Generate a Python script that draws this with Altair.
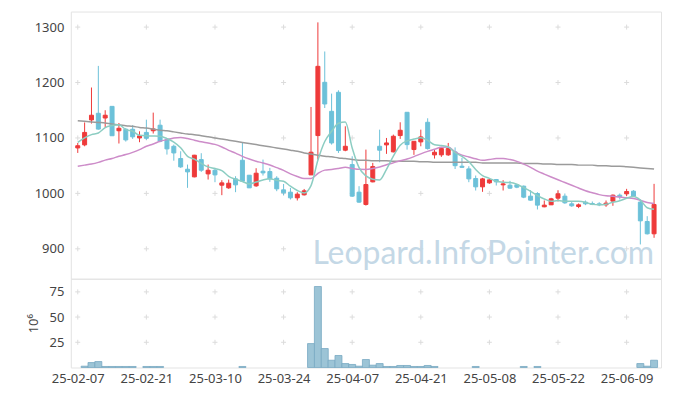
import json
import altair as alt
import pandas as pd

# ---------------- data ----------------
dates = [
    "25-02-07", "25-02-10", "25-02-11", "25-02-12", "25-02-13", "25-02-14",
    "25-02-17", "25-02-18", "25-02-19", "25-02-20", "25-02-21",
    "25-02-24", "25-02-25", "25-02-26", "25-02-27", "25-02-28",
    "25-03-04", "25-03-05", "25-03-06", "25-03-07",
    "25-03-10", "25-03-11", "25-03-12", "25-03-13", "25-03-14",
    "25-03-17", "25-03-18", "25-03-19", "25-03-20", "25-03-21",
    "25-03-24", "25-03-25", "25-03-26", "25-03-27", "25-03-28",
    "25-03-31", "25-04-01", "25-04-02", "25-04-03", "25-04-04",
    "25-04-07", "25-04-08", "25-04-09", "25-04-10", "25-04-11",
    "25-04-14", "25-04-15", "25-04-16", "25-04-17", "25-04-18",
    "25-04-21", "25-04-22", "25-04-23", "25-04-24", "25-04-25",
    "25-04-28", "25-04-29", "25-04-30", "25-05-02", "25-05-07",
    "25-05-08", "25-05-09", "25-05-12", "25-05-13", "25-05-14",
    "25-05-15", "25-05-16", "25-05-19", "25-05-20", "25-05-21",
    "25-05-22", "25-05-23", "25-05-26", "25-05-27", "25-05-28",
    "25-05-29", "25-05-30", "25-06-02", "25-06-04", "25-06-05",
    "25-06-09", "25-06-10", "25-06-11", "25-06-12", "25-06-13",
]

open_ = [1082, 1087.5, 1132.5, 1144.5, 1136, 1157, 1113, 1115.7, 1115.7, 1100,
         1110, 1113, 1123, 1097, 1085, 1062.9, 1043.6, 1029.8, 1061, 1035.2,
         1041.8, 1014.8, 1010, 1026.2, 1059.8, 1032.8, 1013.6, 1040, 1039.4, 1027.4,
         1006.4, 1002.2, 992, 997.4, 1033.4, 1104.3, 1200.4, 1148.1, 1182.4, 1077.9,
         1052, 1002.2, 980, 1020.8, 1085, 1087.5, 1074.9, 1104.3, 1146.3, 1079.1,
         1092.9, 1128.3, 1069.5, 1069.5, 1069.5, 1074.9, 1049, 1044.2, 1026.8, 1011.8,
         1019, 1025, 1015.4, 1014.8, 1015.4, 1013, 995, 999.8, 975.8, 979.4,
         991.4, 995, 981.2, 976.4, 984.2, 981.8, 981.2, 979.4, 986, 996.8,
         999.2, 1004, 984.2, 949.3, 927.1]
high = [1091, 1128, 1191, 1230, 1150, 1157, 1127, 1118, 1123, 1112,
        1133, 1145.7, 1133, 1100, 1088, 1076, 1052, 1069.5, 1072.5, 1052,
        1046, 1023.8, 1025, 1031, 1091, 1033, 1045.4, 1061, 1046, 1031,
        1017, 1010, 1002.2, 1008, 1155.9, 1308.5, 1256, 1180, 1186, 1121,
        1067, 1013, 1079, 1055, 1115, 1100, 1106, 1128.3, 1146.3, 1094,
        1115, 1135.5, 1079, 1083.9, 1091, 1083, 1064, 1049, 1032.2, 1028,
        1026.2, 1026, 1023.8, 1022.6, 1017, 1014.2, 1005.8, 1002.2, 987.2, 992,
        1005.8, 999.8, 985.4, 981.8, 987.2, 985.4, 984.2, 987.2, 998, 999.8,
        1008.2, 1005.8, 989, 958.9, 1017.2]
low = [1073, 1085, 1126, 1115, 1119, 1104, 1090, 1093.5, 1098.3, 1092.3,
       1096.5, 1108, 1092.3, 1070, 1059, 1046, 1010, 1029, 1038.8, 1025,
       1020.2, 996.8, 1008.2, 1002.2, 1020.8, 1010, 1011.8, 1032.2, 1020.8, 1004,
       996.8, 989, 987.2, 996.2, 1033, 1061, 1154, 1088, 1073, 1076,
       993.8, 983, 978, 1020, 1056.2, 1071.3, 1074, 1098.3, 1079, 1069.5,
       1085, 1079, 1062.8, 1065.9, 1067.7, 1044, 1046, 1020.2, 1005.2, 1002.8,
       1017.2, 1014.2, 1005.2, 1008.2, 1009.4, 991.4, 987, 971, 975, 979,
       985.4, 981.2, 975.8, 973.4, 978.8, 978.8, 977, 975.8, 977.6, 989,
       995, 993.8, 907.9, 925.9, 919.9]
close = [1086, 1110, 1141, 1116, 1141, 1104, 1117.5, 1096.5, 1102, 1103.7,
         1099.5, 1116.3, 1094, 1080.3, 1073, 1047.8, 1038.8, 1068.9, 1041.8, 1041.8,
         1033.4, 1019, 1018.4, 1015.4, 1022, 1010, 1036.4, 1037, 1026.2, 1008.2,
         1001, 992, 998.6, 1004.6, 1074.3, 1229.2, 1161.3, 1091, 1077.3, 1085,
         995, 984.2, 1016, 1048.4, 1077.9, 1091, 1103.1, 1113.9, 1088, 1094,
         1101.9, 1080.9, 1074.3, 1080.9, 1080.9, 1050, 1047, 1026.2, 1011.8, 1026.2,
         1024.4, 1020.8, 1017.2, 1009.4, 1011.2, 993.2, 987.8, 978.8, 978.8, 990.2,
         999.2, 983, 977.6, 979.4, 981.2, 980, 979.4, 982.4, 996.8, 994.4,
         1003.4, 995, 950.5, 927.1, 980]

# volume, millions of shares
volume = [0, 1.3, 4.9, 5.9, 1, 1, 1, 1, 1, 0,
          1, 1, 1, 0, 0, 0, 0, 0, 0, 0,
          0, 0, 0, 0, 1, 0, 0, 0, 0, 0,
          0, 0, 0, 0, 23.7, 80.3, 18.8, 7.2, 11.9, 3.9,
          3, 1.3, 7.9, 2.3, 3.9, 1, 1, 2, 2, 1,
          1, 2, 1, 0, 0, 0, 0, 0, 1, 0,
          0, 0, 0, 0, 0, 1, 0, 1, 0, 0,
          0, 0, 0, 0, 0, 0, 0, 0, 0, 0,
          0, 0, 3.9, 1.3, 7.2]

ma5 = [1092, 1100, 1106, 1109,
       1118.8, 1122.4, 1123.9, 1115, 1112.2, 1104.7, 1103.8, 1103.6, 1103.1, 1098.8,
       1092.6, 1082.3, 1066.8, 1061.8, 1054.1, 1047.8, 1044.9, 1041, 1030.9, 1025.6,
       1021.6, 1017, 1020.4, 1024.2, 1026.3, 1023.6, 1021.8, 1012.9, 1005.2, 1000.9,
       1014.1, 1059.7, 1093.6, 1112.1, 1126.6, 1128.8, 1081.9, 1046.5, 1031.5, 1025.7,
       1024.3, 1043.5, 1067.3, 1086.9, 1094.8, 1098, 1100.2, 1095.7, 1087.8, 1086.4,
       1083.8, 1073.4, 1066.6, 1057, 1043.2, 1032.2, 1027.1, 1021.9, 1020.1, 1019.6,
       1016.6, 1010.4, 1003.8, 996.1, 990, 985.8, 987, 986, 985.8, 985.9,
       984.1, 980.2, 979.5, 980.5, 984, 986.6, 991.3, 994.4, 988, 974.1, 971.2]

ma20 = [1049, 1051, 1053, 1056, 1060, 1063, 1067, 1070, 1074, 1079,
        1085, 1089, 1094, 1097, 1100, 1101, 1099, 1096, 1093,
        1091, 1088.4, 1083.8, 1077.7, 1072.7, 1066.7, 1062, 1058, 1055, 1051.2,
        1046.4, 1041.5, 1035.3, 1030.5, 1026.7, 1026.8, 1035.9, 1042, 1043.1, 1044.9,
        1047, 1045.1, 1043.4, 1043.2, 1044.9, 1047.7, 1051.7, 1055.1, 1058.9, 1062,
        1066.3, 1071.3, 1075.8, 1079.6, 1083.4, 1083.7, 1074.8, 1069, 1065.8, 1062.5,
        1059.6, 1061, 1062.9, 1062.9, 1061, 1057.7, 1052.8, 1047, 1040.2, 1034.8,
        1029.6, 1024.5, 1019.6, 1014.7, 1009.7, 1004.7, 1001.2, 997.8, 995.6, 994.9,
        993.3, 992.2, 990.9, 987.6, 983.5, 981.9]

ma60 = [1131, 1130, 1129, 1128, 1127, 1125, 1124, 1122, 1121, 1119,
        1118, 1116, 1114, 1113, 1111, 1109, 1107, 1106, 1104, 1102,
        1100, 1098, 1096, 1094, 1092, 1090, 1088, 1086, 1084, 1082,
        1080, 1078, 1076, 1073, 1071, 1069, 1067, 1066, 1064, 1063,
        1061, 1060, 1060, 1059, 1059, 1059, 1058, 1058, 1058, 1058,
        1057, 1057, 1056, 1056, 1056, 1056, 1056, 1056, 1056, 1055,
        1055, 1055, 1055, 1055, 1055, 1054, 1054, 1054, 1053, 1053,
        1052, 1052, 1052, 1051, 1051, 1051, 1050, 1050, 1049, 1049,
        1048, 1047, 1046, 1045, 1044]

tick_index = [0, 10, 20, 30, 40, 50, 60, 70, 80]
price_ticks = [900, 1000, 1100, 1200, 1300]
volume_ticks = [25, 50, 75]
watermark = "Leopard.InfoPointer.com"

# ---------------- styling ----------------
UP = "#ee3a3a"
DOWN = "#6cc1d9"
FONT = "Noto Sans"
W = 592

n = len(dates)
df = pd.DataFrame({
    "i": list(range(n)), "date": dates, "open": open_, "high": high,
    "low": low, "close": close, "volume": volume,
    "ma5": ma5, "ma20": ma20, "ma60": ma60,
})

label_expr = json.dumps(dates) + "[datum.value]"
x_scale = alt.Scale(domain=[-0.286, n - 1 + 0.286], nice=False, zero=False)
x_hidden = alt.X("i:Q", scale=x_scale, axis=None)
y_scale = alt.Scale(domain=[846, 1328], nice=False, zero=False)
y_axis = alt.Axis(values=price_ticks, grid=False, ticks=False, domain=False,
                  labelPadding=7, title=None, format="d")

cross = "M-1,0H1M0,-1V1"

grid_p = pd.DataFrame([(a, b) for a in tick_index for b in price_ticks], columns=["gx", "gy"])
grid_v = pd.DataFrame([(a, b) for a in tick_index for b in volume_ticks], columns=["gx", "gy"])

color = alt.condition("datum.close >= datum.open", alt.value(UP), alt.value(DOWN))

base = alt.Chart(df)

g1 = alt.Chart(grid_p).mark_point(shape=cross, filled=False, color="#dcdcdc",
                                   size=25, strokeWidth=1, opacity=1).encode(
    x=alt.X("gx:Q", scale=x_scale, axis=None),
    y=alt.Y("gy:Q", scale=y_scale, axis=y_axis),
)
wm = alt.Chart(pd.DataFrame({"t": [watermark]})).mark_text(
    font="Lato", fontSize=32, color="#c4d8e6", align="right", baseline="alphabetic"
).encode(x=alt.value(W - 7), y=alt.value(253), text="t:N")

wick = base.mark_rule(strokeWidth=1).encode(
    x=x_hidden, y=alt.Y("low:Q", scale=y_scale, axis=y_axis), y2="high:Q", color=color)
body = base.mark_bar(size=4, strokeWidth=1).encode(
    x=x_hidden, y="open:Q", y2="close:Q", color=color, stroke=color)

l60 = base.mark_line(color="#9b9b9b", strokeWidth=1.5, interpolate="monotone").encode(
    x=x_hidden, y="ma60:Q")
l20 = base.mark_line(color="#cd8cc9", strokeWidth=1.5, interpolate="monotone").encode(
    x=x_hidden, y="ma20:Q")
l5 = base.mark_line(color="#8ccdc2", strokeWidth=1.5, interpolate="monotone").encode(
    x=x_hidden, y="ma5:Q")

price = alt.layer(g1, wm, wick, body, l60, l20, l5).properties(width=W, height=268)

v_scale = alt.Scale(domain=[0, 88], nice=False, zero=True)
v_axis = alt.Axis(values=volume_ticks, grid=False, ticks=False, domain=False,
                  labelPadding=7, title="10⁶", titlePadding=9)
x_axis = alt.Axis(values=tick_index, labelExpr=label_expr, grid=False, ticks=False,
                  domain=False, labelPadding=5, title=None, labelOverlap=False,
                  labelFlush=False)

g2 = alt.Chart(grid_v).mark_point(shape=cross, filled=False, color="#dcdcdc",
                                   size=25, strokeWidth=1, opacity=1).encode(
    x=alt.X("gx:Q", scale=x_scale, axis=x_axis),
    y=alt.Y("gy:Q", scale=v_scale, axis=v_axis),
)
vbars = base.transform_filter("datum.volume > 0").mark_bar(
    size=7, color="#9cc4d6", stroke="#78aac3", strokeWidth=0.8
).encode(
    x=alt.X("i:Q", scale=x_scale, axis=x_axis),
    y=alt.Y("volume:Q", scale=v_scale, axis=v_axis),
)
vol = alt.layer(g2, vbars).properties(width=W, height=89)

chart = alt.vconcat(price, vol, spacing=0, bounds="flush").properties(
    padding={"left": 18, "top": 2, "right": 3, "bottom": 5}
).configure_view(stroke="#e3e3e3").configure_axis(
    labelFont=FONT, labelFontSize=13, labelColor="#444",
    titleFont=FONT, titleFontSize=13, titleColor="#444", titleFontWeight="normal",
)

chart.save("out.html", embed_options={"renderer": "svg", "actions": False})
